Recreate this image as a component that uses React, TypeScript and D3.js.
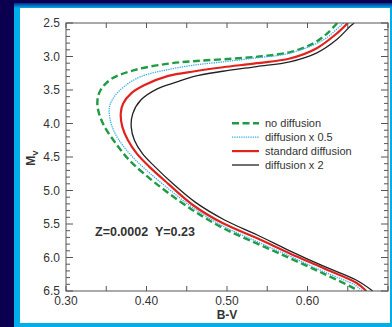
import React from "react";
import * as d3 from "d3";

// Data: [B-V, M_V]
const noDiffusion: [number, number][] = [
  [0.637, 2.5], [0.625, 2.65], [0.608, 2.8], [0.58, 2.93], [0.54, 3.0], [0.497, 3.04],
  [0.458, 3.07], [0.425, 3.11], [0.386, 3.2], [0.357, 3.33], [0.343, 3.5], [0.339, 3.67],
  [0.341, 3.85], [0.348, 4.05], [0.362, 4.3], [0.378, 4.54], [0.397, 4.75], [0.423, 5.0],
  [0.457, 5.29], [0.495, 5.56], [0.537, 5.79], [0.578, 6.01], [0.62, 6.24], [0.656, 6.45], [0.663, 6.5],
];
const diffusionHalf: [number, number][] = [
  [0.645, 2.5], [0.642, 2.53], [0.62, 2.75], [0.578, 2.95], [0.537, 3.02], [0.495, 3.08],
  [0.458, 3.13], [0.425, 3.2], [0.393, 3.3], [0.372, 3.45], [0.36, 3.6], [0.354, 3.75],
  [0.355, 3.95], [0.361, 4.15], [0.372, 4.35], [0.386, 4.54], [0.405, 4.75], [0.43, 5.0],
  [0.458, 5.26], [0.495, 5.53], [0.537, 5.76], [0.578, 5.98], [0.62, 6.21], [0.66, 6.42], [0.668, 6.5],
];
const standardDiffusion: [number, number][] = [
  [0.65, 2.5], [0.637, 2.65], [0.611, 2.88], [0.578, 3.03], [0.537, 3.1], [0.495, 3.16],
  [0.46, 3.22], [0.427, 3.29], [0.397, 3.43], [0.381, 3.55], [0.371, 3.7], [0.368, 3.85],
  [0.37, 4.05], [0.377, 4.25], [0.388, 4.45], [0.403, 4.64], [0.427, 4.9], [0.458, 5.22],
  [0.495, 5.49], [0.537, 5.71], [0.578, 5.94], [0.62, 6.16], [0.661, 6.38], [0.673, 6.5],
];
const diffusionDouble: [number, number][] = [
  [0.658, 2.5], [0.653, 2.55], [0.636, 2.75], [0.611, 2.95], [0.578, 3.08], [0.537, 3.15],
  [0.495, 3.22], [0.458, 3.3], [0.438, 3.38], [0.414, 3.48], [0.393, 3.65], [0.383, 3.85],
  [0.381, 4.05], [0.385, 4.25], [0.395, 4.45], [0.41, 4.64], [0.433, 4.9], [0.46, 5.17],
  [0.497, 5.44], [0.537, 5.66], [0.578, 5.9], [0.62, 6.13], [0.661, 6.34], [0.681, 6.5],
];

const seriesNames = ["no diffusion", "diffusion x 0.5", "standard diffusion", "diffusion x 2"];
const xTickLabels = ["0.30", "0.40", "0.50", "0.60"];
const yTickLabels = ["2.5", "3.0", "3.5", "4.0", "4.5", "5.0", "5.5", "6.0", "6.5"];
const annotation = "Z=0.0002  Y=0.23";

const W = 392;
const H = 327;
const left = 66, right = 388, top = 23, bottom = 291;

export default function App() {
  const x = d3.scaleLinear().domain([0.3, 0.7]).range([left, right]);
  const y = d3.scaleLinear().domain([2.5, 6.5]).range([top, bottom]);
  const line = d3
    .line<[number, number]>()
    .x((d) => x(d[0]))
    .y((d) => y(d[1]))
    .curve(d3.curveCatmullRom.alpha(0.5));

  const styles = [
    { data: noDiffusion, stroke: "#1f9a45", width: 2.4, dash: "7,3.5" },
    { data: diffusionHalf, stroke: "#35aee0", width: 1.3, dash: "1.3,1" },
    { data: standardDiffusion, stroke: "#e0231f", width: 2.2, dash: "" },
    { data: diffusionDouble, stroke: "#222222", width: 1.3, dash: "" },
  ];

  const xMinor = d3.range(0, 9).map((i) => 0.3 + i * 0.05);
  const yMinor = d3.range(0, 41).map((i) => 2.5 + i * 0.1);
  const font = "'Liberation Sans', Arial, Helvetica, sans-serif";
  const axisColor = "#555";

  return (
    <svg width={W} height={H} style={{ position: "absolute", left: 0, top: 0 }} fontFamily={font}>
      <defs>
        <clipPath id="plotclip">
          <rect x={left} y={top} width={right - left} height={bottom - top} />
        </clipPath>
        <linearGradient id="topband" x1="0" y1="0" x2="0" y2="1">
          <stop offset="0" stopColor="#0a2a8a" />
          <stop offset="1" stopColor="#00aeea" />
        </linearGradient>
      </defs>
      <rect x={0} y={0} width={W} height={H} fill="#0b0050" />
      <rect x={14} y={3} width={W - 14} height={H - 3} fill="#00aeea" />
      <rect x={14} y={3} width={W - 14} height={5} fill="url(#topband)" />
      <rect x={20} y={8} width={370} height={315} fill="#ffffff" />

      {/* curves */}
      <g clipPath="url(#plotclip)">
        {styles.map((s, i) => (
          <path
            key={i}
            d={line(s.data) || ""}
            fill="none"
            stroke={s.stroke}
            strokeWidth={s.width}
            strokeDasharray={s.dash || undefined}
          />
        ))}
      </g>

      {/* axes box */}
      <rect x={left} y={top} width={right - left} height={bottom - top} fill="none" stroke={axisColor} strokeWidth={1} />
      {xMinor.map((v, i) => (
        <g key={"xt" + i}>
          <line x1={x(v)} x2={x(v)} y1={bottom} y2={bottom - 5} stroke={axisColor} />
          <line x1={x(v)} x2={x(v)} y1={top} y2={top + 5} stroke={axisColor} />
        </g>
      ))}
      {yMinor.map((v, i) => {
        const major = i % 5 === 0;
        const len = major ? 7 : 4;
        return (
          <g key={"yt" + i}>
            <line x1={left} x2={left + len} y1={y(v)} y2={y(v)} stroke={axisColor} />
            <line x1={right} x2={right - len} y1={y(v)} y2={y(v)} stroke={axisColor} />
          </g>
        );
      })}
      {xTickLabels.map((t) => (
        <text key={t} x={x(+t)} y={305} fontSize={12} textAnchor="middle" fill="#333">
          {t}
        </text>
      ))}
      {yTickLabels.map((t) => (
        <text key={t} x={60} y={y(+t) + 4} fontSize={12} textAnchor="end" fill="#333">
          {t}
        </text>
      ))}
      <text x={227} y={319} fontSize={12} fontWeight="bold" textAnchor="middle" fill="#333">
        B-V
      </text>
      <text transform="translate(35,158) rotate(-90)" fontSize={12} fontWeight="bold" textAnchor="middle" fill="#333">
        M<tspan fontSize={8} dy={3}>V</tspan>
      </text>

      {/* legend */}
      {styles.map((s, i) => {
        const ly = 123.3 + i * 13.9;
        return (
          <g key={"lg" + i}>
            <line x1={232} x2={259} y1={ly} y2={ly} stroke={s.stroke} strokeWidth={s.width} strokeDasharray={s.dash || undefined} />
            <text x={265} y={ly + 4} fontSize={11} fill="#333">
              {seriesNames[i]}
            </text>
          </g>
        );
      })}

      <text x={95} y={236} fontSize={12.5} fontWeight="bold" fill="#333" style={{ whiteSpace: "pre" }}>
        {annotation}
      </text>
    </svg>
  );
}
